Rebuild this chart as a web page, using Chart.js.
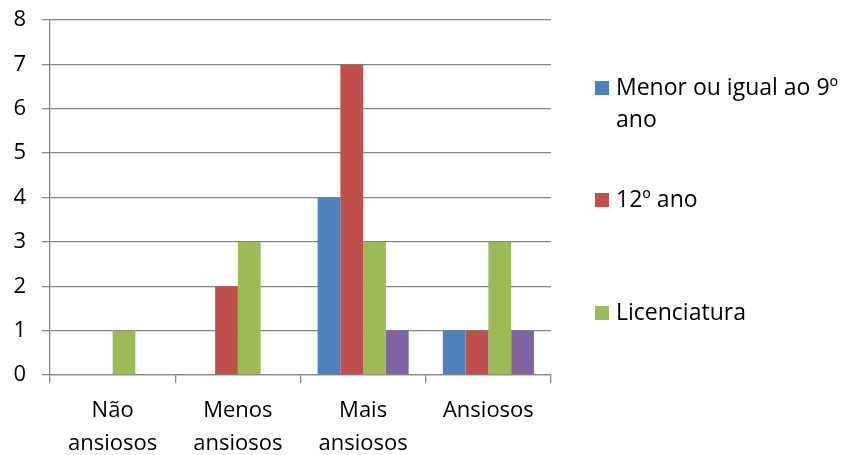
<!DOCTYPE html>
<html>
<head>
<meta charset="utf-8">
<script src="https://cdn.jsdelivr.net/npm/chart.js@4/dist/chart.umd.min.js"></script>
<style>
  html, body { margin: 0; padding: 0; background: #fff; }
  #wrap { width: 845px; height: 455px; }
</style>
</head>
<body>
<div id="wrap"><canvas id="c" width="845" height="455"></canvas></div>
<script>
// Categories (multi-line axis labels)
const categories = [["Não", "ansiosos"], ["Menos", "ansiosos"], ["Mais", "ansiosos"], ["Ansiosos"]];

// Series values per category
const menorIgual9 = [0, 0, 4, 1];
const ano12 = [0, 2, 7, 1];
const licenciatura = [1, 3, 3, 3];
const serie4 = [0, 0, 1, 1];

const seriesNames = ["Menor ou igual ao 9º ano", "12º ano", "Licenciatura", "Série 4"];
// Legend entries shown at the right (wrapped text lines)
const legendLines = [["Menor ou igual ao 9º", "ano"], ["12º ano"], ["Licenciatura"]];

const yTicks = [0, 1, 2, 3, 4, 5, 6, 7, 8];

const colors = ["#4F81BD", "#C0504D", "#9BBB59", "#8064A2"];
const FONT = "'Open Sans', sans-serif";
const GRID = "#868686";

const sideLegend = {
  id: "sideLegend",
  afterDraw(chart) {
    const ctx = chart.ctx;
    const x0 = 595, box = 14, textX = 616;
    const centers = [88, 200, 313];
    ctx.save();
    ctx.font = "23px " + FONT;
    ctx.textBaseline = "middle";
    legendLines.forEach((lines, i) => {
      const cy = centers[i];
      ctx.fillStyle = colors[i];
      ctx.fillRect(x0, cy - box / 2, box, box);
      ctx.fillStyle = "#000";
      lines.forEach((t, j) => ctx.fillText(t, textX, cy + j * 32));
    });
    ctx.restore();
  }
};

new Chart(document.getElementById("c"), {
  type: "bar",
  data: {
    labels: categories,
    datasets: [menorIgual9, ano12, licenciatura, serie4].map((d, i) => ({
      label: seriesNames[i],
      data: d,
      backgroundColor: colors[i],
      borderWidth: 0,
      categoryPercentage: 0.727,
      barPercentage: 1.0
    }))
  },
  options: {
    responsive: false,
    animation: false,
    layout: { padding: { top: 20, right: 294, left: 0, bottom: 0 } },
    plugins: { legend: { display: false }, tooltip: { enabled: false } },
    scales: {
      y: {
        min: 0, max: 8,
        afterFit(scale) {
          scale.width = 50;
          scale.paddingTop = 0;
          scale.paddingBottom = 0;
        },
        afterBuildTicks(scale) { scale.ticks = yTicks.map(v => ({ value: v })); },
        ticks: { color: "#000", font: { family: FONT, size: 22 }, padding: 16 },
        grid: { color: GRID, lineWidth: 1.3, tickLength: 8, drawTicks: true },
        border: { color: GRID, width: 1.3 }
      },
      x: {
        afterFit(scale) { scale.height = 80; },
        ticks: { color: "#000", font: { family: FONT, size: 22, lineHeight: 1.5 }, padding: 11, maxRotation: 0, autoSkip: false },
        grid: { color: GRID, lineWidth: 1.3, tickLength: 8, drawOnChartArea: false, offset: true },
        border: { color: GRID, width: 1.3 }
      }
    }
  },
  plugins: [sideLegend]
});
</script>
</body>
</html>
